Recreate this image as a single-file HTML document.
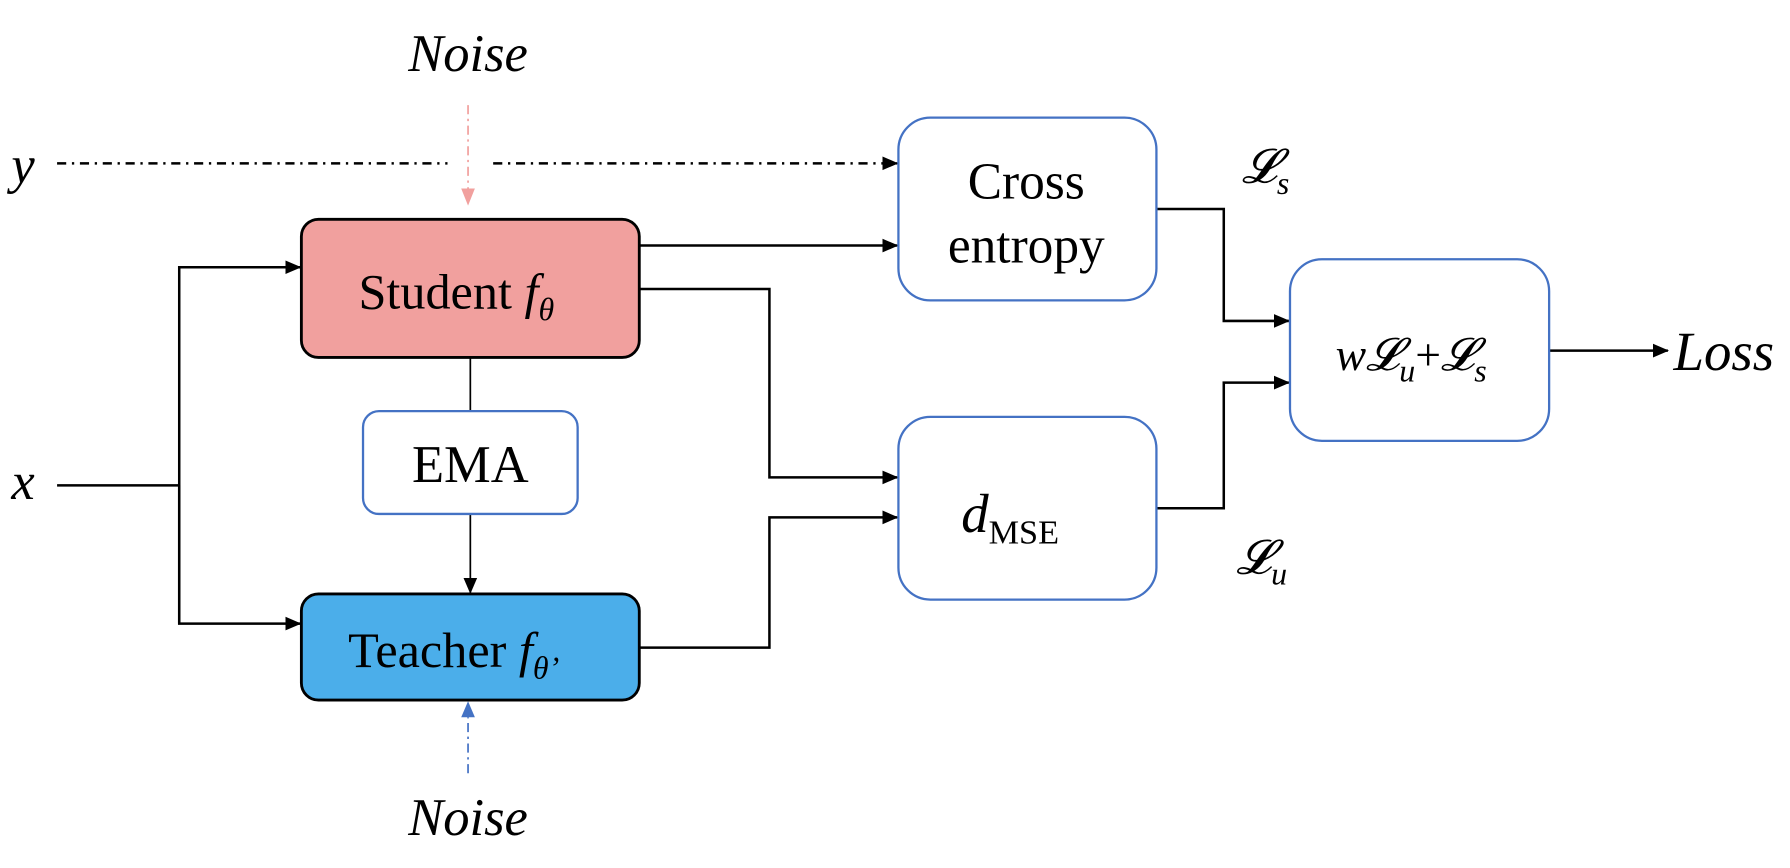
<!DOCTYPE html>
<html><head><meta charset="utf-8"><style>
html,body{margin:0;padding:0;background:#fff;}
svg{display:block;}
text{font-family:"Liberation Serif",serif;fill:#000;}
</style></head><body>
<svg width="1790" height="868" viewBox="0 0 1568 760" preserveAspectRatio="none">
<defs>
<marker id="ab" markerWidth="14" markerHeight="14" refX="13" refY="7" orient="auto" markerUnits="userSpaceOnUse"><path d="M0,1 L14,7 L0,13 z" fill="#000"/></marker>
</defs>
<g fill="none" stroke="#000" stroke-width="2.2">
<line x1="410" y1="92" x2="410" y2="166" stroke="#F1A09E" stroke-width="1.5" stroke-dasharray="8,4,2,4"/>
<line x1="50" y1="143" x2="392" y2="143" stroke-dasharray="8,5,2,5"/>
<line x1="432" y1="143" x2="786" y2="143" stroke-dasharray="8,5,2,5" marker-end="url(#ab)"/>
<polyline points="50,425 157,425"/>
<polyline points="157,546 157,234 263,234" marker-end="url(#ab)"/>
<polyline points="157,425 157,546 263,546" marker-end="url(#ab)"/>
<polyline points="560,215 786,215" marker-end="url(#ab)"/>
<polyline points="560,253 674,253 674,418 786,418" marker-end="url(#ab)"/>
<polyline points="560,567 674,567 674,453 786,453" marker-end="url(#ab)"/>
<line x1="412" y1="313" x2="412" y2="360" stroke-width="1.5"/>
<line x1="412" y1="450" x2="412" y2="519" stroke-width="1.5" marker-end="url(#ab)"/>
<polyline points="1013,183 1072,183 1072,281 1129,281" marker-end="url(#ab)"/>
<polyline points="1013,445 1072,445 1072,335 1129,335" marker-end="url(#ab)"/>
<line x1="1357" y1="307" x2="1461" y2="307" marker-end="url(#ab)"/>
<line x1="410" y1="677" x2="410" y2="628" stroke="#4472C4" stroke-width="1.5" stroke-dasharray="8,4,2,4"/>
</g>
<path d="M404,165 L416,165 L410,180 z" fill="#F1A09E"/>
<path d="M404,628 L416,628 L410,614 z" fill="#4472C4"/>
<rect x="264" y="192" width="296" height="121" rx="15" fill="#F1A09E" stroke="#000" stroke-width="2.5"/>
<rect x="264" y="520" width="296" height="93" rx="15" fill="#4BAEEA" stroke="#000" stroke-width="2.5"/>
<rect x="318" y="360" width="188" height="90" rx="14" fill="#fff" stroke="#4472C4" stroke-width="2"/>
<rect x="787" y="103" width="226" height="160" rx="28" fill="#fff" stroke="#4472C4" stroke-width="2"/>
<rect x="787" y="365" width="226" height="160" rx="28" fill="#fff" stroke="#4472C4" stroke-width="2"/>
<rect x="1130" y="227" width="227" height="159" rx="28" fill="#fff" stroke="#4472C4" stroke-width="2"/>
<text x="410" y="62" font-size="46" font-style="italic" text-anchor="middle">Noise</text>
<text x="410" y="731" font-size="46" font-style="italic" text-anchor="middle">Noise</text>
<text x="10" y="160" font-size="46" font-style="italic">y</text>
<text x="10" y="437" font-size="46" font-style="italic">x</text>
<text x="314" y="270" font-size="44">Student <tspan font-style="italic">f</tspan><tspan font-style="italic" font-size="28" dy="10">θ</tspan></text>
<text x="305" y="584" font-size="44">Teacher <tspan font-style="italic">f</tspan><tspan font-style="italic" font-size="28" dy="10">θ’</tspan></text>
<text x="412" y="422" font-size="46" text-anchor="middle">EMA</text>
<text x="899" y="174" font-size="45" text-anchor="middle">Cross</text>
<text x="899" y="230" font-size="45" text-anchor="middle">entropy</text>
<text x="842" y="466" font-size="48" font-style="italic">d<tspan font-style="normal" font-size="30" dy="10">MSE</tspan></text>
<text x="1170" y="324" font-size="40" font-style="italic">w𝓛<tspan font-size="28" dy="10">u</tspan><tspan font-style="normal" dy="-10">+</tspan>𝓛<tspan font-size="28" dy="10">s</tspan></text>
<text x="1466" y="324" font-size="48" font-style="italic">Loss</text>
<text x="1088" y="160" font-size="42" font-style="italic">𝓛<tspan font-size="28" dy="10">s</tspan></text>
<text x="1083" y="502" font-size="42" font-style="italic">𝓛<tspan font-size="28" dy="10">u</tspan></text>
</svg>
</body></html>
